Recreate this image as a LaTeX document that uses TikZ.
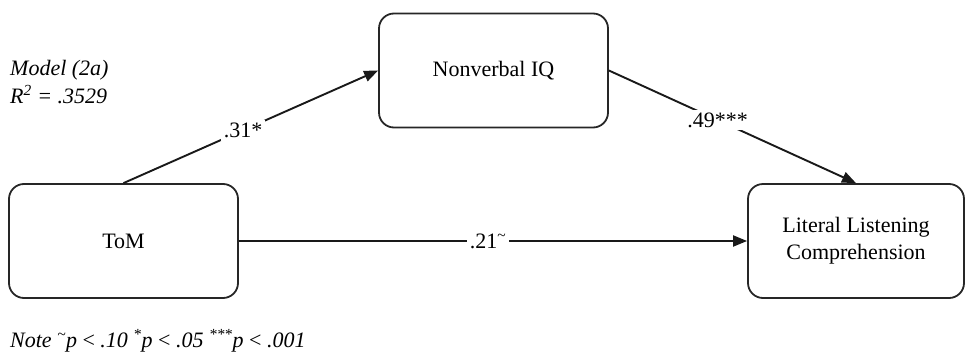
\documentclass[tikz,border=0pt]{standalone}
\usepackage{fontspec}
\setmainfont{Liberation Serif}
\usetikzlibrary{arrows.meta}
\begin{document}
\begin{tikzpicture}[x=1pt,y=-1pt,
  box/.style={draw=black!85, line width=1.8pt, rounded corners=15pt, minimum width=229pt, minimum height=114pt, inner sep=0pt, align=center, font=\fontsize{22}{27}\selectfont},
  conn/.style={draw=black!90, line width=1.9pt, -{Triangle[length=14pt,width=11pt]}},
  lbl/.style={fill=white, inner sep=3pt, font=\fontsize{22}{27}\selectfont},
  itx/.style={anchor=base west, inner sep=0pt, font=\fontsize{22}{27}\selectfont\itshape}]
\useasboundingbox (0,0) rectangle (965,356);
\node[box] (tom) at (123.5,241) {ToM};
\node[box] (nv) at (493.5,70.5) {Nonverbal IQ};
\node[box, minimum width=216pt] (lit) at (856,241) {Literal Listening\\Comprehension};
\draw[conn] (tom.north) -- node[lbl, pos=0.47] {.31*} (nv.west);
\draw[conn] (nv.east) -- node[lbl, pos=0.44] {.49***} (lit.north);
\draw[conn] (tom.east) -- node[lbl, pos=0.49] {.21\textsuperscript{\textasciitilde}} (lit.west);
\node[itx] (model) at (10,75) {Model (2a)};
\node[itx] (rsq) at (10,103) {R\textsuperscript{2} = .3529};
\node[itx] (note) at (10,347) {Note \textsuperscript{\textasciitilde}p {\upshape<} .10 \textsuperscript{*}p {\upshape<} .05 \textsuperscript{***}p {\upshape<} .001};
\end{tikzpicture}
\end{document}
